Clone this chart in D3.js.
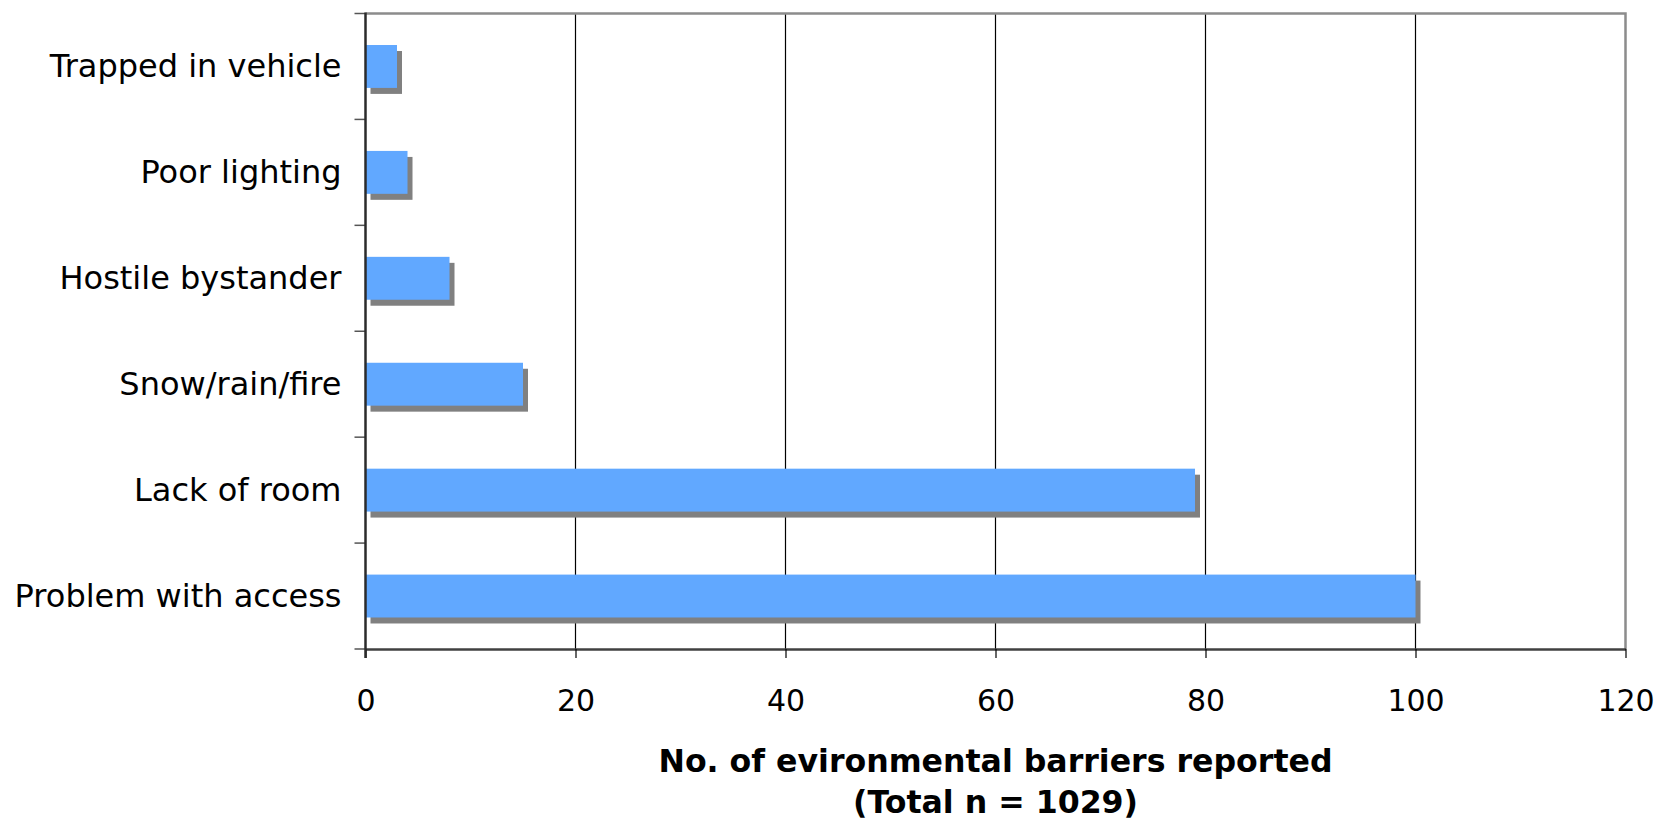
<!DOCTYPE html>
<html>
<head>
<meta charset="utf-8">
<script src="https://cdn.jsdelivr.net/npm/d3@7"></script>
<style>
  html, body { margin: 0; padding: 0; background: #ffffff; }
  svg { display: block; }
  text { font-family: "DejaVu Sans", Verdana, sans-serif; fill: #000; }
</style>
</head>
<body>
<script>
// Environmental barriers, listed top to bottom
const categories = [
  "Trapped in vehicle",
  "Poor lighting",
  "Hostile bystander",
  "Snow/rain/fire",
  "Lack of room",
  "Problem with access"
];
const counts = [3, 4, 8, 15, 79, 100];
const xTicks = [0, 20, 40, 60, 80, 100, 120];
const titleLines = ["No. of evironmental barriers reported", "(Total n = 1029)"];

const W = 1663, H = 819;
const plot = { left: 365.5, right: 1625.5, top: 13.5, bottom: 649 };

const svg = d3.select("body").append("svg")
  .attr("width", W).attr("height", H);

const x = d3.scaleLinear().domain([0, 120]).range([plot.left, plot.right]);
const y = d3.scaleBand().domain(categories).range([plot.top, plot.bottom]).padding(0);
const barH = y.bandwidth() * 0.405;

// vertical gridlines
svg.append("g").selectAll("line")
  .data(xTicks.filter(t => t > 0 && t < 120))
  .join("line")
  .attr("x1", d => x(d)).attr("x2", d => x(d))
  .attr("y1", plot.top).attr("y2", plot.bottom)
  .attr("stroke", "#000").attr("stroke-width", 1.2);

// top and right frame
svg.append("path")
  .attr("d", `M${plot.left},${plot.top}H${plot.right}V${plot.bottom}`)
  .attr("fill", "none").attr("stroke", "#8c8c8c").attr("stroke-width", 2.5);

// drop shadows, then bars
const rows = categories.map((c, i) => ({ c, v: counts[i] }));
svg.append("g").selectAll("rect")
  .data(rows).join("rect")
  .attr("x", x(0) + 5)
  .attr("y", d => y(d.c) + y.bandwidth() / 2 - barH / 2 + 6)
  .attr("width", d => x(d.v) - x(0))
  .attr("height", barH)
  .attr("fill", "#808080");
svg.append("g").selectAll("rect")
  .data(rows).join("rect")
  .attr("x", x(0))
  .attr("y", d => y(d.c) + y.bandwidth() / 2 - barH / 2)
  .attr("width", d => x(d.v) - x(0))
  .attr("height", barH)
  .attr("fill", "#61a8ff");

// x axis
const xAxis = svg.append("g")
  .attr("transform", `translate(0,${plot.bottom})`)
  .call(d3.axisBottom(x).tickValues(xTicks).tickSize(9).tickSizeOuter(0).tickPadding(32));
xAxis.select(".domain").attr("stroke", "#404040").attr("stroke-width", 2.5);
xAxis.selectAll(".tick line").attr("stroke", "#000").attr("stroke-width", 1.2);
xAxis.selectAll(".tick text")
  .attr("font-size", 30).attr("font-family", "DejaVu Sans, Verdana, sans-serif")
  .attr("fill", "#000");

// y axis: ticks sit on category boundaries
const boundaries = categories.map(c => y(c)).concat([plot.bottom]);
const yAxis = svg.append("g");
yAxis.selectAll("line.tick")
  .data(boundaries).join("line")
  .attr("class", "tick")
  .attr("x1", plot.left - 11).attr("x2", plot.left)
  .attr("y1", d => d).attr("y2", d => d)
  .attr("stroke", "#555").attr("stroke-width", 1.5);
yAxis.append("line")
  .attr("x1", plot.left).attr("x2", plot.left)
  .attr("y1", plot.top - 1).attr("y2", plot.bottom + 9)
  .attr("stroke", "#2b2b2b").attr("stroke-width", 2.5);
yAxis.selectAll("text")
  .data(categories).join("text")
  .attr("x", plot.left - 24)
  .attr("y", d => y(d) + y.bandwidth() / 2 + 11)
  .attr("text-anchor", "end")
  .attr("font-size", 32)
  .text(d => d);

// axis title
const midX = (plot.left + plot.right) / 2;
svg.append("g").selectAll("text")
  .data(titleLines).join("text")
  .attr("x", midX)
  .attr("y", (d, i) => 772 + i * 41)
  .attr("text-anchor", "middle")
  .attr("font-size", 31.6)
  .attr("font-weight", "bold")
  .text(d => d);
</script>
</body>
</html>
